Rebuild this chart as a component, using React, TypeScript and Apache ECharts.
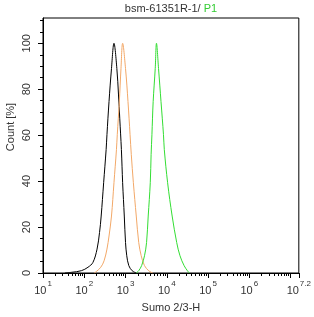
import React, { useEffect, useRef } from "react";
import * as echarts from "echarts";

const FONT = "'Liberation Sans', Arial, sans-serif";

// x in log10 units of fluorescence intensity, y = Count [%]
const blackLog = [1.53, 1.69, 1.93, 2.09, 2.21, 2.31, 2.37, 2.41, 2.47, 2.53, 2.55, 2.60, 2.66, 2.72, 2.79, 2.83, 2.86, 2.90, 2.93, 2.97, 3.00, 3.03, 3.08, 3.16, 3.26];
const blackCount = [0, 0.3, 1.0, 2.5, 4.6, 10.4, 17.6, 24.8, 39.3, 53.7, 60.2, 74.6, 89.0, 100, 89.0, 77.5, 67.4, 53.7, 39.3, 24.8, 13.3, 7.5, 3.2, 1.0, 0];

const orangeLog = [2.24, 2.29, 2.40, 2.48, 2.55, 2.60, 2.66, 2.72, 2.78, 2.80, 2.85, 2.89, 2.93, 3.00, 3.06, 3.11, 3.14, 3.19, 3.26, 3.32, 3.38, 3.46, 3.56, 3.66];
const orangeCount = [0, 0.6, 2.5, 5.3, 10.4, 16.1, 24.8, 39.3, 53.7, 60.2, 74.6, 89.0, 100, 89.0, 74.6, 60.2, 51.5, 39.3, 24.8, 13.3, 7.5, 3.2, 1.0, 0];

const greenLog = [3.26, 3.32, 3.39, 3.46, 3.51, 3.55, 3.60, 3.62, 3.64, 3.67, 3.72, 3.75, 3.80, 3.86, 3.92, 3.94, 4.02, 4.13, 4.24, 4.32, 4.42, 4.50, 4.55];
const greenCount = [0, 1.0, 3.2, 7.5, 13.3, 24.8, 39.3, 51.5, 60.2, 74.6, 89.0, 100, 89.0, 74.6, 60.2, 53.7, 39.3, 24.8, 13.3, 7.5, 3.2, 1.0, 0];

const xMajorTicks = [1, 2, 3, 4, 5, 6, 7, 7.2];
const xLabelTicks = [1, 2, 3, 4, 5, 6, 7.2];
const xMinorMultipliers = [2, 3, 4, 5, 6, 7, 8, 9];
const yMajorTicks = [0, 20, 40, 60, 80, 100];
const yMinorTicks = [5, 10, 15, 25, 30, 35, 45, 50, 55, 65, 70, 75, 85, 90, 95, 105, 110];

const titleMain = "bsm-61351R-1/ ";
const titleGate = "P1";
const xName = "Sumo 2/3-H";
const yName = "Count [%]";

const zip = (xs: number[], ys: number[]) => xs.map((x, i) => [x, ys[i]]);

export default function App() {
  const ref = useRef<HTMLDivElement>(null);
  useEffect(() => {
    if (!ref.current) return;
    const chart = echarts.init(ref.current, null, { renderer: "svg" });
    const xMinor: number[] = [];
    for (let d = 1; d <= 7; d++) {
      xMinorMultipliers.forEach((m) => {
        const v = d + Math.log10(m);
        if (v <= 7.2) xMinor.push(v);
      });
    }
    const line = (data: number[][], color: string) => ({
      type: "line",
      data,
      smooth: 0.35,
      symbol: "none",
      lineStyle: { color, width: 1 },
      xAxisIndex: 0,
      yAxisIndex: 0,
    });
    chart.setOption({
      animation: false,
      grid: { left: 43, right: 14, top: 18, bottom: 43, show: true, borderColor: "#000", borderWidth: 1 },
      xAxis: [
        {
          type: "value",
          min: 1,
          max: 7.2,
          axisLine: { show: true, lineStyle: { color: "#000", width: 1 } },
          axisTick: { show: true, customValues: xMajorTicks, length: 5, lineStyle: { color: "#000" } },
          splitLine: { show: false },
          axisLabel: {
            customValues: xLabelTicks,
            margin: 6,
            color: "#333",
            fontFamily: FONT,
            formatter: (v: number) => `{b|10}{s|${Math.round(v * 10) / 10}}`,
            rich: {
              b: { fontSize: 11, fontFamily: FONT, color: "#333", lineHeight: 16, verticalAlign: "bottom" },
              s: { fontSize: 8, fontFamily: FONT, color: "#333", lineHeight: 8, verticalAlign: "top", padding: [0, 0, 0, 1] },
            },
          },
          name: xName,
          nameLocation: "middle",
          nameGap: 28,
          nameTextStyle: { fontSize: 11, fontFamily: FONT, color: "#333" },
        },
        {
          type: "value",
          min: 1,
          max: 7.2,
          position: "bottom",
          axisLine: { show: false },
          axisTick: { show: true, customValues: xMinor, length: 3, lineStyle: { color: "#000" } },
          axisLabel: { show: false },
          splitLine: { show: false },
        },
      ],
      yAxis: [
        {
          type: "value",
          min: 0,
          max: 111,
          axisLine: { show: true, lineStyle: { color: "#000", width: 1 } },
          axisTick: { show: true, customValues: yMajorTicks, length: 5, lineStyle: { color: "#000" } },
          splitLine: { show: false },
          axisLabel: {
            customValues: yMajorTicks,
            rotate: 90,
            margin: 12,
            fontSize: 11,
            fontFamily: FONT,
            color: "#333",
          },
        },
        {
          type: "value",
          min: 0,
          max: 111,
          position: "left",
          axisLine: { show: false },
          axisTick: { show: true, customValues: yMinorTicks, length: 3, lineStyle: { color: "#000" } },
          axisLabel: { show: false },
          splitLine: { show: false },
        },
      ],
      graphic: [
        {
          type: "text",
          x: 171,
          y: 8,
          style: {
            text: `{a|${titleMain}}{g|${titleGate}}`,
            align: "center",
            verticalAlign: "middle",
            rich: {
              a: { fontSize: 11, fontFamily: FONT, fill: "#333" },
              g: { fontSize: 11, fontFamily: FONT, fill: "#33cc33" },
            },
          },
        },
        {
          type: "text",
          x: 10,
          y: 127,
          rotation: Math.PI / 2,
          style: {
            text: yName,
            fontSize: 11,
            fontFamily: FONT,
            fill: "#333",
            align: "center",
            verticalAlign: "middle",
          },
        },
      ],
      series: [
        line(zip(blackLog, blackCount), "#000000"),
        line(zip(orangeLog, orangeCount), "#f2a868"),
        line(zip(greenLog, greenCount), "#33dd33"),
      ],
    });
    return () => chart.dispose();
  }, []);
  return <div ref={ref} style={{ position: "fixed", left: 0, top: 0, width: 314, height: 317 }} />;
}
